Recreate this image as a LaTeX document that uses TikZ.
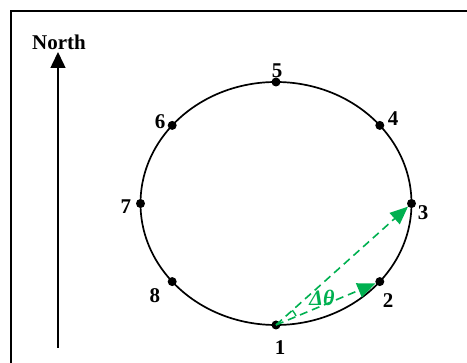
\documentclass[tikz,border=0pt]{standalone}
\usepackage{fontspec}
\setmainfont{Liberation Serif}
\usetikzlibrary{arrows.meta,calc}
\definecolor{vecgreen}{RGB}{0,176,80}
\tikzset{
  dot/.style={circle,fill=black,inner sep=0pt,minimum size=9pt},
  lab/.style={font=\fontsize{21}{21}\selectfont\bfseries,inner sep=0pt},
  vec/.style={draw=vecgreen,line width=1.6pt,dash pattern=on 8pt off 5pt,
     -{Triangle[length=18pt,width=15pt,fill=vecgreen]}},
}
\begin{document}
\begin{tikzpicture}[x=1pt,y=-1pt]
\useasboundingbox (0,0) rectangle (467,363);
\clip (0,0) rectangle (467,363);
\draw[line width=2pt] (11,11) rectangle (490,390);
% North arrow
\node[lab] (north) at (59,42) {North};
\coordinate (nbase) at (58,348);
\coordinate (ntip) at (58,52);
\draw[line width=1.5pt,-{Triangle[length=16pt,width=15pt]}] (nbase) -- (ntip);
% ellipse
\coordinate (c) at (276,203.5);
\draw[line width=1.7pt] (c) ellipse[x radius=135.5,y radius=121.5];
\foreach \i/\a in {1/-90,2/-40,3/0,4/40,5/90,6/140,7/180,8/-140}{
  \path (c) ++({135.5*cos(\a)},{-121.5*sin(\a)}) coordinate (p\i);
  \node[dot] (n\i) at (p\i) {};
}
% labels
\node[lab] (l1) at (280,348) {1};
\node[lab] (l2) at (388,301) {2};
\node[lab] (l3) at (423,213) {3};
\node[lab] (l4) at (393,119) {4};
\node[lab] (l5) at (277,71) {5};
\node[lab] (l6) at (160,121.5) {6};
\node[lab] (l7) at (126,207) {7};
\node[lab] (l8) at (155,296) {8};
% vectors
\draw[vec] (n1.center) -- (n2);
\draw[vec] (n1.center) -- (n3);
\draw[vecgreen,line width=1.4pt] (n1.center) ++(-24:22) arc[start angle=-24,end angle=-42,radius=22];
\node[font=\fontsize{22}{22}\selectfont\bfseries\itshape,text=vecgreen,inner sep=0pt] (dt) at (322,298) {Δθ};
\end{tikzpicture}
\end{document}
